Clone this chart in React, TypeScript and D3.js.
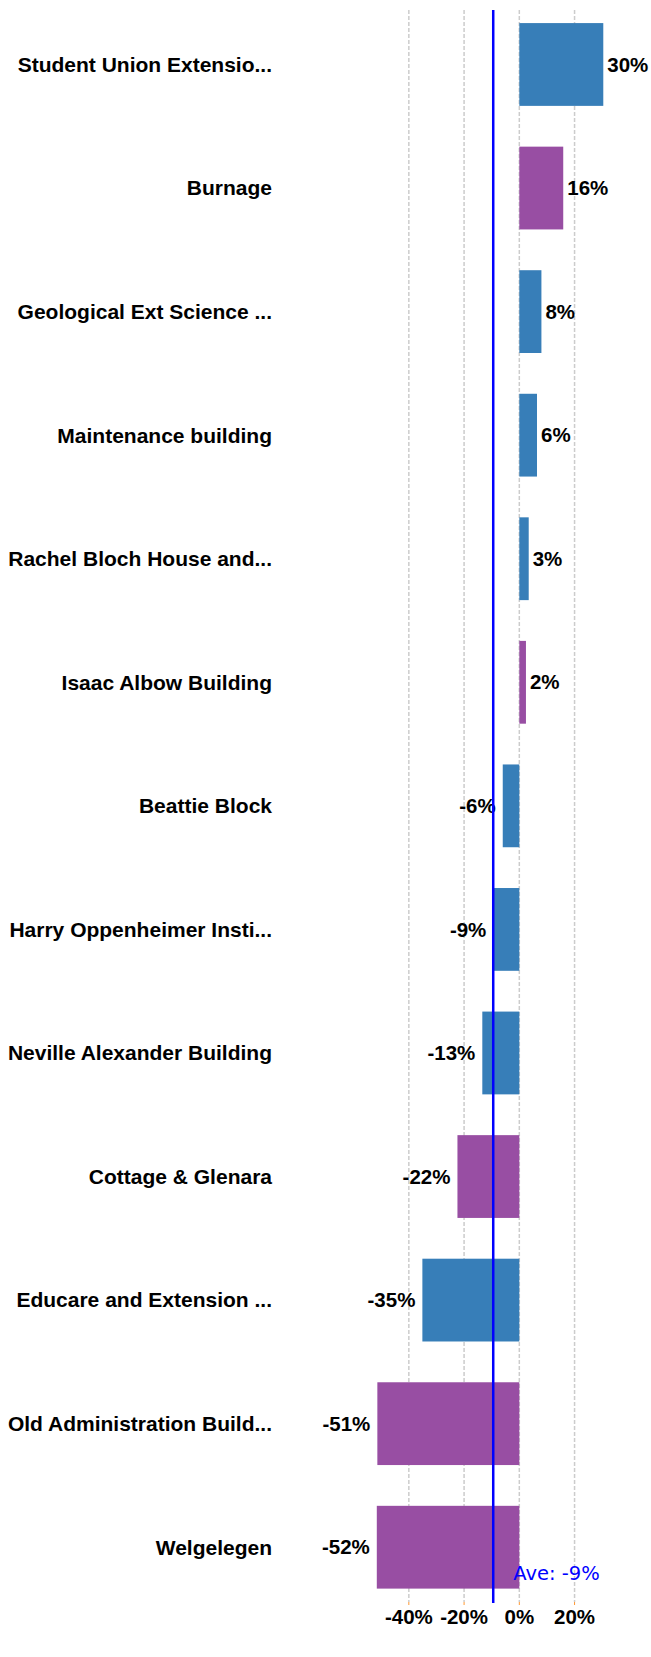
import React from "react";
import * as d3 from "d3";

const categories: string[] = [
  "Student Union Extensio...",
  "Burnage",
  "Geological Ext Science ...",
  "Maintenance building",
  "Rachel Bloch House and...",
  "Isaac Albow Building",
  "Beattie Block",
  "Harry Oppenheimer Insti...",
  "Neville Alexander Building",
  "Cottage & Glenara",
  "Educare and Extension ...",
  "Old Administration Build...",
  "Welgelegen",
];
const values: number[] = [30.4, 15.9, 8.0, 6.4, 3.4, 2.4, -6.0, -9.4, -13.4, -22.4, -35.1, -51.4, -51.6];
const groups: string[] = ["A", "B", "A", "A", "A", "B", "A", "A", "A", "B", "A", "B", "B"];
const tickValues: number[] = [-40, -20, 0, 20];

const W = 651;
const H = 1657;
const colorOf: Record<string, string> = { A: "#377eb8", B: "#984ea3" };
const LABEL_FONT = "'Liberation Sans', Arial, sans-serif";

export default function App() {
  const x = d3.scaleLinear().domain([-60, 40]).range([353.6, 629.8]);
  const y = d3
    .scaleBand<string>()
    .domain(categories)
    .range([2.7, 1609])
    .paddingInner(0.33)
    .paddingOuter(0.165);
  const avg = d3.mean(values) as number;
  const gridTop = 10;
  const gridBottom = 1602;
  const pct = (v: number) => `${Math.round(v)}%`;

  return (
    <svg
      width={W}
      height={H}
      style={{ position: "absolute", left: 0, top: 0, display: "block", background: "#fff" }}
    >
      {tickValues.map((t) => (
        <g key={t}>
          <line
            x1={x(t)}
            x2={x(t)}
            y1={gridTop}
            y2={gridBottom}
            stroke="#cccccc"
            strokeWidth={1.5}
            strokeDasharray="4,2"
          />
          <line x1={x(t)} x2={x(t)} y1={gridBottom} y2={gridBottom + 3} stroke="#ff9933" strokeWidth={1} />
          <text
            x={x(t)}
            y={1624}
            textAnchor="middle"
            fontFamily={LABEL_FONT}
            fontWeight="bold"
            fontSize={20.5}
            fill="#000"
          >
            {`${t}%`}
          </text>
        </g>
      ))}
      {categories.map((c, i) => {
        const v = values[i];
        const y0 = y(c) as number;
        const bw = y.bandwidth();
        const cy = y0 + bw / 2;
        return (
          <g key={c}>
            <rect
              x={Math.min(x(0), x(v))}
              y={y0}
              width={Math.abs(x(v) - x(0))}
              height={bw}
              fill={colorOf[groups[i]]}
            />
            <text
              x={272}
              y={cy}
              dy="0.35em"
              textAnchor="end"
              fontFamily={LABEL_FONT}
              fontWeight="bold"
              fontSize={21}
              fill="#000"
            >
              {c}
            </text>
            <text
              x={v >= 0 ? x(v) + 4 : x(v) - 7}
              y={cy}
              dy="0.35em"
              textAnchor={v >= 0 ? "start" : "end"}
              fontFamily={LABEL_FONT}
              fontWeight="bold"
              fontSize={20.5}
              fill="#000"
            >
              {pct(v)}
            </text>
          </g>
        );
      })}
      <line x1={x(avg)} x2={x(avg)} y1={gridTop} y2={1603} stroke="#0000ff" strokeWidth={2.5} />
      <text
        x={x(avg) + 20}
        y={1580}
        fontFamily="'DejaVu Sans', Verdana, sans-serif"
        fontSize={19.5}
        fill="#0000ff"
      >
        {`Ave: ${Math.round(avg)}%`}
      </text>
    </svg>
  );
}
